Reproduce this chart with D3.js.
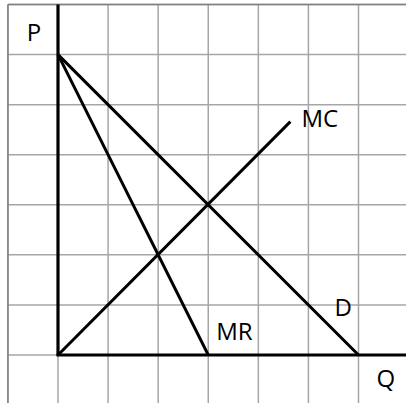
<!DOCTYPE html>
<html><head><meta charset="utf-8">
<script src="https://cdn.jsdelivr.net/npm/d3@7"></script>
<style>html,body{margin:0;padding:0;background:#fff;}svg{display:block;}</style>
</head><body>
<svg id="c" width="406" height="403"></svg>
<script>
// grid tick values (in chart units)
const gridX = [-1, 0, 1, 2, 3, 4, 5, 6];
const gridY = [0, 1, 2, 3, 4, 5, 6, 7];
// curves: [q, p] endpoints
const demand = [[0, 6], [6, 0]];
const marginalRevenue = [[0, 6], [3, 0]];
const marginalCost = [[0, 0], [4.64, 4.66]];
// labels: text, q, p (baseline-left anchor)
const labelNames = ["P", "Q", "MC", "MR", "D"];
const labelQ = [-0.48, 6.36, 4.86, 3.16, 5.52];
const labelP = [6.27, -0.64, 4.56, 0.29, 0.78];

const svg = d3.select("#c");
const W = 406, H = 403;
const x = d3.scaleLinear().domain([0, 6]).range([58, 358.5]);
const y = d3.scaleLinear().domain([0, 7]).range([355, 4.5]);

const grid = svg.append("g").attr("stroke", "#a6a6a6").attr("stroke-width", 1.5);
grid.selectAll("line.v").data(gridX).join("line")
  .attr("x1", d => x(d)).attr("x2", d => x(d))
  .attr("y1", y(7)).attr("y2", H);
grid.selectAll("line.h").data(gridY).join("line")
  .attr("y1", d => y(d)).attr("y2", d => y(d))
  .attr("x1", x(-1)).attr("x2", W);
// darker borders
grid.append("line").attr("x1", x(-1)).attr("x2", x(-1)).attr("y1", y(7)).attr("y2", H).attr("stroke", "#808080");
grid.append("line").attr("x1", x(-1)).attr("x2", W).attr("y1", y(7)).attr("y2", y(7)).attr("stroke", "#808080");

// axes
const ax = svg.append("g").attr("stroke", "#000").attr("stroke-width", 3.2);
ax.append("line").attr("x1", x(0)).attr("x2", x(0)).attr("y1", y(7)).attr("y2", y(0));
ax.append("line").attr("x1", x(0) - 1.6).attr("x2", W).attr("y1", y(0)).attr("y2", y(0));

const line = d3.line().x(d => x(d[0])).y(d => y(d[1]));
svg.selectAll("path.curve").data([demand, marginalRevenue, marginalCost]).join("path")
  .attr("d", line).attr("fill", "none").attr("stroke", "#000").attr("stroke-width", 3)
  .attr("stroke-linecap", "butt");

svg.selectAll("text.lab").data(labelNames).join("text")
  .attr("x", (d, i) => x(labelQ[i])).attr("y", (d, i) => y(labelP[i]))
  .attr("font-family", "'Open Sans', 'Noto Sans', sans-serif")
  .attr("font-size", 24).attr("fill", "#000")
  .attr("text-anchor", (d, i) => i === 0 ? "middle" : "start")
  .text(d => d);
</script>
</body></html>
